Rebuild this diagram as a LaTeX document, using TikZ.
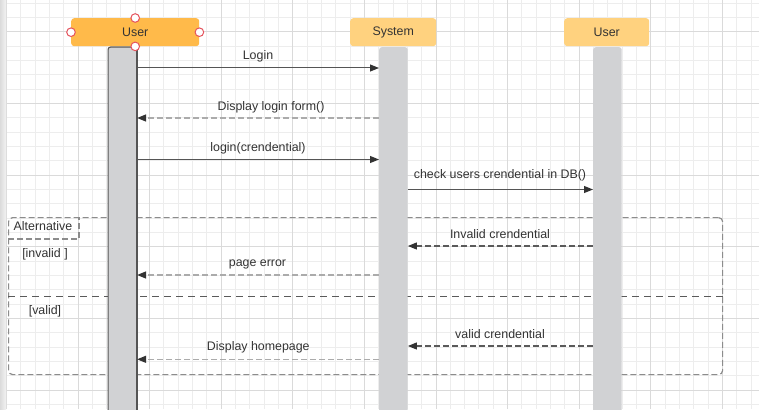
\documentclass[tikz,border=0pt]{standalone}
\usepackage{fontspec}
\setmainfont{Liberation Sans}
\usetikzlibrary{arrows.meta}
\definecolor{headA}{HTML}{FFBA4A}
\definecolor{headB}{HTML}{FFD27F}
\definecolor{barfill}{HTML}{D1D2D4}
\definecolor{txt}{HTML}{333333}
\definecolor{solidline}{HTML}{555555}
\definecolor{lightdash}{HTML}{ABABAB}
\definecolor{darkdash}{HTML}{5A5A5A}
\definecolor{darktip}{HTML}{333333}
\definecolor{framegray}{HTML}{8C8C8C}
\definecolor{gridminor}{HTML}{EDEDED}
\definecolor{gridmajor}{HTML}{DADADA}
\definecolor{handle}{HTML}{E5535D}
\begin{document}
\begin{tikzpicture}[x=1pt,y=-1pt,
  font=\fontsize{12.4}{14}\selectfont,
  head/.style={rounded corners=3pt, inner sep=0pt, minimum height=28pt, text=txt, anchor=north west},
  lifebar/.style={fill=barfill, inner sep=0pt, anchor=north west, minimum height=380pt, minimum width=28.5pt, rounded corners=2.5pt},
  tip/.style={-{Triangle[length=9pt,width=7pt,color=darktip]}},
  callmsg/.style={draw=solidline, line width=1pt, tip},
  retlight/.style={draw=lightdash, line width=1.3pt, dash pattern=on 6pt off 3pt, tip},
  retdark/.style={draw=darkdash, line width=1.1pt, dash pattern=on 6pt off 3pt, tip},
  lbl/.style={anchor=base, text=txt, inner sep=0pt},
  altframe/.style={draw=framegray, line width=1.2pt, dash pattern=on 6pt off 3pt, rounded corners=4pt, inner sep=0pt, anchor=north west},
  divider/.style={draw=darkdash, line width=1pt, dash pattern=on 6.5pt off 5.5pt},
  handlept/.style={circle, draw=handle, fill=white, line width=1pt, minimum size=8.6pt, inner sep=0pt}
]
\useasboundingbox (0,0) rectangle (759,409);
\fill[white] (0,0) rectangle (759,409);
% grid
\foreach \i in {0,...,52} {\draw[gridminor, line width=0.8pt] ({6.3+14.32*\i},0) -- ({6.3+14.32*\i},409);}
\foreach \j in {0,...,28} {\draw[gridminor, line width=0.8pt] (0,{3.0+14.33*\j}) -- (759,{3.0+14.33*\j});}
\foreach \i in {0,...,10} {\draw[gridmajor, line width=0.8pt] ({6.3+71.6*\i},0) -- ({6.3+71.6*\i},409);}
\foreach \j in {0,...,5} {\draw[gridmajor, line width=0.8pt] (0,{31.7+71.65*\j}) -- (759,{31.7+71.65*\j});}
\shade[left color=black!14, right color=black!5] (0,0) rectangle (6,409);

% alternative frame
\node[altframe, minimum width=714pt, minimum height=157pt] (alt) at (8,217) {};
\draw[altframe] (8,239) -- (74,239) to[out=0,in=-90] (79,234) -- (79,217);
\node[lbl] (altlbl) at (43,230.5) {Alternative};
\node[lbl] (g1) at (45,257.5) {[invalid ]};
\node[lbl] (g2) at (45,314.5) {[valid]};
\draw[divider] (alt.west |- 0,296.5) -- (alt.east |- 0,296.5);

% lifelines
\node[lifebar, draw=solidline, line width=1.1pt] (barL) at (107.5,46.5) {};
\draw[solidline, line width=2pt] (barL.north east |- 0,48) -- (barL.south east);
\node[lifebar] (barS) at (379,47) {};
\node[lifebar] (barR) at (593,47) {};

% heads
\node[head, fill=headA, minimum width=128pt] (userL) at (71,18) {User};
\node[head, fill=headB, minimum width=86pt] (sys) at (350,18) {System};
\node[head, fill=headB, minimum width=85pt] (userR) at (564,18) {User};
\node[handlept] (h1) at (userL.west) {};
\node[handlept] (h2) at (userL.east) {};
\node[handlept] (h3) at (userL.north) {};
\node[handlept] (h4) at (userL.south) {};

% messages
\draw[callmsg] (barL.east |- 0,68) -- (barS.west |- 0,68);
\node[lbl] (m1) at (258,60) {Login};
\draw[retlight] (barS.west |- 0,118) -- (barL.east |- 0,118);
\node[lbl] (m2) at (271,110.5) {Display login form()};
\draw[callmsg] (barL.east |- 0,159.5) -- (barS.west |- 0,159.5);
\node[lbl] (m3) at (258,151.5) {login(crendential)};
\draw[callmsg] (barS.east |- 0,189.5) -- (barR.west |- 0,189.5);
\node[lbl] (m4) at (500,178.5) {check users crendential in DB()};
\draw[retdark] (barR.west |- 0,246) -- (barS.east |- 0,246);
\node[lbl] (m5) at (500,238) {Invalid crendential};
\draw[retlight] (barS.west |- 0,275) -- (barL.east |- 0,275);
\node[lbl] (m6) at (257.5,266.5) {page error};
\draw[retdark] (barR.west |- 0,346) -- (barS.east |- 0,346);
\node[lbl] (m7) at (500,338.3) {valid crendential};
\draw[retlight] (barS.west |- 0,359.3) -- (barL.east |- 0,359.3);
\node[lbl] (m8) at (258.3,350.7) {Display homepage};
\end{tikzpicture}
\end{document}
